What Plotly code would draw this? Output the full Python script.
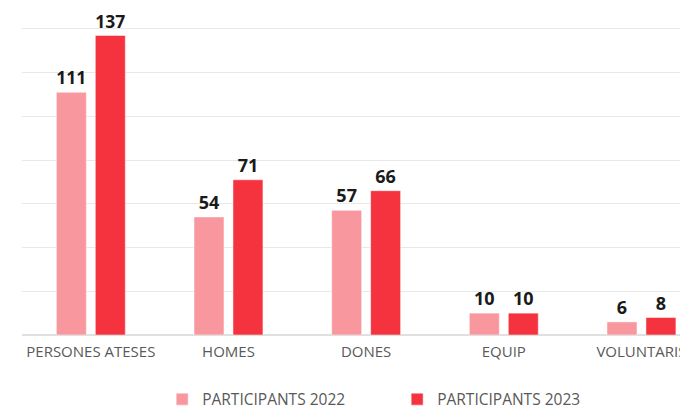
import plotly.graph_objects as go

categories = ["PERSONES ATESES", "HOMES", "DONES", "EQUIP", "VOLUNTARIS"]
series_names = ["PARTICIPANTS 2022", "PARTICIPANTS 2023"]
values_2022 = [111, 54, 57, 10, 6]
values_2023 = [137, 71, 66, 10, 8]
colors = ["#F9979F", "#F5333F"]

fig = go.Figure()
for name, vals, col in zip(series_names, [values_2022, values_2023], colors):
    fig.add_trace(go.Bar(
        x=categories, y=vals, name=name,
        marker=dict(color=col, line=dict(color="rgba(255,255,255,0.5)", width=1)),
        text=[str(v) for v in vals], textposition="outside",
        textfont=dict(family="Open Sans", size=18, color="#1a1a1a", weight="bold"),
        cliponaxis=False,
    ))

fig.update_layout(
    width=680, height=408,
    margin=dict(l=22, r=0, t=7, b=73, autoexpand=False),
    paper_bgcolor="white", plot_bgcolor="white",
    barmode="group", bargap=0.434, bargroupgap=0.23,
    font=dict(family="Open Sans", size=15, color="#595959"),
    showlegend=True,
    legend=dict(orientation="h", x=0.213, xanchor="left", y=-0.145, yanchor="top",
                font=dict(family="Open Sans", size=15.5, color="#595959"),
                itemwidth=30, tracegroupgap=0, entrywidth=190, entrywidthmode="pixels"),
    xaxis=dict(range=[-0.5, 4.28], showgrid=False, showline=False, ticks="",
               automargin=False, ticklabelstandoff=6,
               tickfont=dict(family="Open Sans", size=15, color="#595959")),
    yaxis=dict(range=[0, 150], dtick=20, showticklabels=False, showgrid=True,
               automargin=False,
               gridcolor="#E8E8E8", gridwidth=1, zeroline=True,
               zerolinecolor="#E0E0E0", zerolinewidth=1.5, showline=False),
    uniformtext=dict(mode=False),
)

fig.write_html("out.html", config={"displayModeBar": False},
               post_script="document.body.style.margin='0';document.body.style.overflow='hidden';")
